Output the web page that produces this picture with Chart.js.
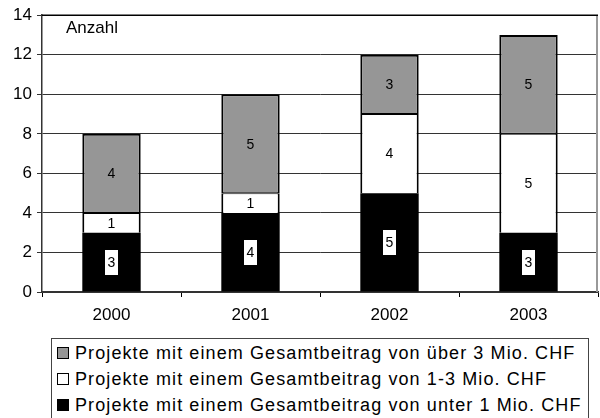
<!DOCTYPE html>
<html><head><meta charset="utf-8">
<script src="https://cdn.jsdelivr.net/npm/chart.js@4.4.1/dist/chart.umd.min.js"></script>
<style>
html,body{margin:0;padding:0;background:#fff;}
#wrap{position:relative;width:600px;height:418px;overflow:hidden;}
#c{position:absolute;left:0;top:0;}
#legend{position:absolute;left:51px;top:338px;width:536px;height:90px;border:1px solid #444;border-bottom:none;background:#fff;
  font-family:Arial,"Liberation Sans",sans-serif;font-size:18px;color:#000;}
.row{position:absolute;left:5px;height:20px;line-height:20px;white-space:nowrap;}
.txt{letter-spacing:1.1px;}
.sw{display:inline-block;width:10px;height:10px;border:1px solid #000;vertical-align:middle;margin-right:6px;position:relative;top:-1px;}
</style></head>
<body><div id="wrap"><canvas id="c" width="600" height="418"></canvas><div id="legend"></div></div>
<script>
const categories = ['2000', '2001', '2002', '2003'];
const seriesUnder1 = [3, 4, 5, 3];
const series1to3 = [1, 1, 4, 5];
const seriesOver3 = [4, 5, 3, 5];
const seriesNames = [
  'Projekte mit einem Gesamtbeitrag von unter 1 Mio. CHF',
  'Projekte mit einem Gesamtbeitrag von 1-3 Mio. CHF',
  'Projekte mit einem Gesamtbeitrag von über 3 Mio. CHF'
];
const seriesColors = ['#000000', '#ffffff', '#969696'];
const yMin = 0, yMax = 14, yStep = 2;
const axisTitle = 'Anzahl';

const FONT = 'Arial, "Liberation Sans", sans-serif';

const labelPlugin = {
  id: 'labels',
  afterDatasetsDraw(chart) {
    const ctx = chart.ctx;
    ctx.save();
    ctx.font = '14px ' + FONT;
    ctx.textAlign = 'center';
    ctx.textBaseline = 'middle';
    chart.data.datasets.forEach((ds, di) => {
      const meta = chart.getDatasetMeta(di);
      meta.data.forEach((bar, i) => {
        const v = ds.data[i];
        const cy = (bar.y + bar.base) / 2;
        if (ds.backgroundColor === '#000000') {
          ctx.fillStyle = '#fff';
          ctx.fillRect(Math.round(bar.x - 6.5), Math.round(cy - 12.5), 13, 25);
        }
        ctx.fillStyle = '#000';
        ctx.fillText(String(v), bar.x, cy + 1);
      });
    });
    const a = chart.chartArea;
    ctx.font = '17px ' + FONT;
    ctx.textAlign = 'left';
    ctx.fillText(axisTitle, a.left + 24, a.top + 13);
    ctx.strokeStyle = '#999';
    ctx.lineWidth = 2;
    ctx.beginPath();
    ctx.moveTo(a.right - 1, a.top);
    ctx.lineTo(a.right - 1, a.bottom);
    ctx.stroke();
    ctx.strokeStyle = '#000';
    ctx.lineWidth = 1.5;
    ctx.beginPath();
    ctx.moveTo(a.left, a.top);
    ctx.lineTo(a.right, a.top);
    ctx.stroke();
    ctx.restore();
  }
};

const borders = [
  0,
  { left: 2, right: 2, top: 1, bottom: 0 },
  { left: 2, right: 2, top: 2, bottom: 1 }
];
const datasets = [seriesUnder1, series1to3, seriesOver3].map((d, i) => ({
  label: seriesNames[i],
  data: d,
  backgroundColor: seriesColors[i],
  borderColor: '#000',
  borderWidth: borders[i],
  borderSkipped: false,
  categoryPercentage: 1,
  barPercentage: 0.42
}));

new Chart(document.getElementById('c'), {
  type: 'bar',
  data: { labels: categories, datasets },
  options: {
    responsive: false,
    animation: false,
    layout: { padding: { top: 14, right: 2, bottom: 86, left: 0 } },
    plugins: { legend: { display: false }, tooltip: { enabled: false } },
    scales: {
      x: {
        stacked: true,
        afterFit(s) { s.height = 40; },
        grid: { drawOnChartArea: false, drawTicks: true, tickLength: 5, offset: true, color: '#000' },
        border: { display: true, color: '#333', width: 1.5 },
        ticks: { color: '#000', font: { family: FONT, size: 17 }, padding: 8 }
      },
      y: {
        stacked: true,
        min: yMin, max: yMax,
        afterFit(s) { s.width = 42; },
        grid: { color: '#333', lineWidth: 1, tickLength: 5, drawTicks: true },
        border: { display: true, color: '#333', width: 1.5 },
        ticks: { stepSize: yStep, color: '#000', font: { family: FONT, size: 17 }, padding: 5 }
      }
    }
  },
  plugins: [labelPlugin]
});

const leg = document.getElementById('legend');
[2, 1, 0].forEach((si, r) => {
  const row = document.createElement('div');
  row.className = 'row';
  row.style.top = (4 + r * 26) + 'px';
  const sw = document.createElement('span');
  sw.className = 'sw';
  sw.style.background = seriesColors[si];
  row.appendChild(sw);
  const t = document.createElement('span');
  t.className = 'txt';
  t.textContent = seriesNames[si];
  row.appendChild(t);
  leg.appendChild(row);
});
</script></body></html>
